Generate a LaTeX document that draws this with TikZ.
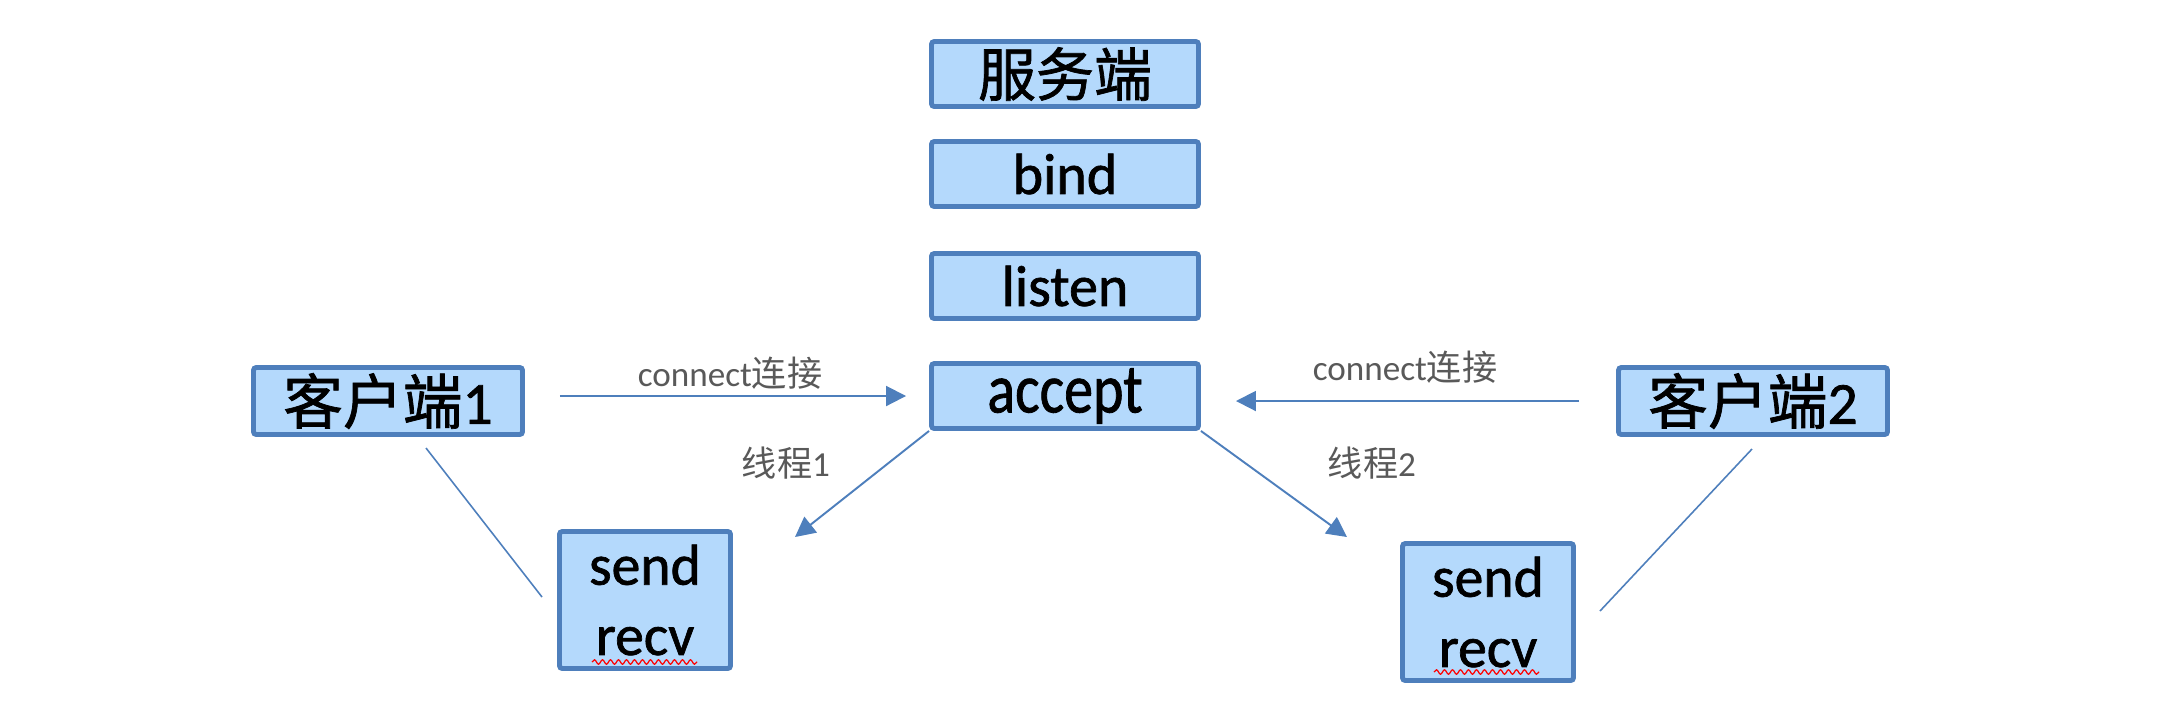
\documentclass[tikz,border=0pt]{standalone}
\usepackage{fontspec}
\setmainfont{Carlito}
\newfontfamily\boxfont[FakeBold=1.2]{Carlito}
\newfontfamily\cjk[FakeBold=1.2]{Noto Sans CJK SC}
\newfontfamily\cjklab{Noto Sans CJK SC}
\usetikzlibrary{arrows.meta,decorations.pathmorphing}
\definecolor{boxfill}{RGB}{180,217,252}
\definecolor{boxline}{RGB}{78,127,188}
\definecolor{labgray}{RGB}{89,89,89}
\newcommand{\tallt}[2][1.2]{\scalebox{1}[#1]{#2}}
\tikzset{
  mybox/.style={draw=boxline,fill=boxfill,line width=1.4pt,rounded corners=0.8pt,inner sep=0pt},
  srvbox/.style={mybox,minimum width=26.7mm,minimum height=6.5mm,font=\boxfont\fontsize{16.5}{18}\selectfont},
  clibox/.style={mybox,minimum width=26.9mm,minimum height=6.7mm,font=\boxfont\fontsize{17}{19}\selectfont},
  sndbox/.style={mybox,minimum width=17.1mm,minimum height=13.7mm,align=center,font=\boxfont\fontsize{16.4}{20}\selectfont},
  lab/.style={text=labgray,inner sep=0pt,font=\fontsize{10}{12}\selectfont},
  arr/.style={draw=boxline,line width=0.55pt,-{Triangle[length=2mm,width=2mm]}},
  plain/.style={draw=boxline,line width=0.45pt},
  squig/.style={draw=red,line width=0.35pt,decorate,decoration={snake,amplitude=0.22mm,segment length=0.8mm}}
}
\begin{document}
\begin{tikzpicture}[x=0.1mm,y=-0.1mm]
\useasboundingbox (0,0) rectangle (2162,720);
\node[srvbox] (server) at (1065,74) {\cjk 服务端};
\node[srvbox] (bind) at (1065,174) {bind};
\node[srvbox] (listen) at (1065,286) {listen};
\node[srvbox] (accept) at (1065,396) {\tallt{accept}};
\node[clibox] (client1) at (388,401) {{\cjk 客户端}1};
\node[clibox] (client2) at (1753,401) {{\cjk 客户端}2};
\node[sndbox] (work1) at (645,600) {send\\recv};
\node[sndbox] (work2) at (1488,612) {send\\recv};
\node[lab] (conn1) at (730,373) {connect{\cjklab 连接}};
\node[lab] (conn2) at (1405,367) {connect{\cjklab 连接}};
\node[lab] (thr1) at (786,463) {{\cjklab 线程}1};
\node[lab] (thr2) at (1372,463) {{\cjklab 线程}2};
\coordinate (tip1) at (795,537);
\coordinate (tip2) at (1347,537);
\coordinate (c1a) at (426,448);
\coordinate (c1b) at (542,597);
\coordinate (c2a) at (1752,449);
\coordinate (c2b) at (1600,611);
\draw[arr,shorten <=3.5mm,shorten >=2.3mm] (client1.east |- accept.west) -- (accept.west);
\draw[arr,shorten <=3.7mm,shorten >=3.5mm] (client2.west) -- (accept.east |- client2.west);
\draw[arr] (accept.south west) -- (tip1);
\draw[arr] (accept.south east) -- (tip2);
\draw[plain] (c1a) -- (c1b);
\draw[plain] (c2a) -- (c2b);
\draw[squig] (592,662) -- (697,662);
\draw[squig] (1434,672) -- (1539,672);
\end{tikzpicture}
\end{document}
